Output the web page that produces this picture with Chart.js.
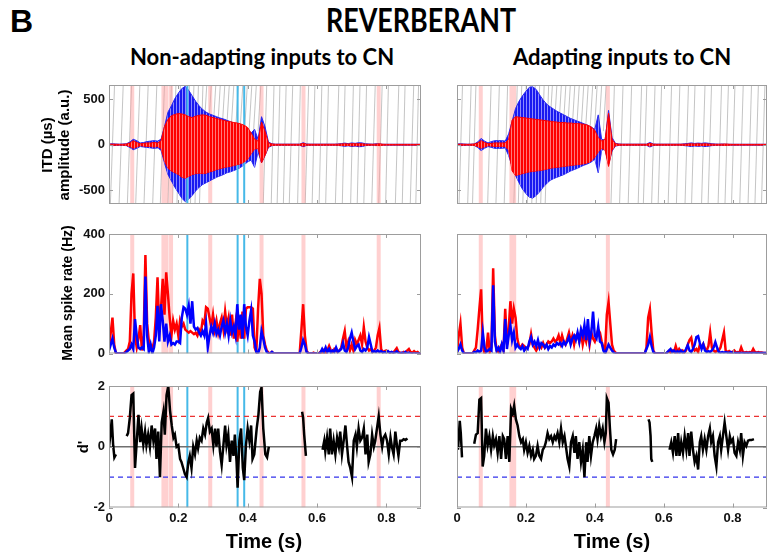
<!DOCTYPE html>
<html><head><meta charset="utf-8">
<script src="https://cdn.jsdelivr.net/npm/chart.js@4.4.1/dist/chart.umd.min.js"></script>
<style>
body{margin:0;width:767px;height:556px;background:#fff;position:relative;overflow:hidden;font-family:Arial,"Liberation Sans",sans-serif}
canvas{position:absolute}
.t{position:absolute;white-space:nowrap;color:#000;font-weight:bold;z-index:5}
.rot{transform:translate(-50%,-50%) rotate(-90deg)}
.ctr{transform:translate(-50%,-50%)}
</style></head><body>
<canvas id="c1"></canvas><canvas id="c2"></canvas><canvas id="c3"></canvas>
<canvas id="c4"></canvas><canvas id="c5"></canvas><canvas id="c6"></canvas>

<div class="t" style="left:10px;top:5px;font:bold 32px 'Liberation Sans',Arial;line-height:32px">B</div>
<div class="t" style="left:421px;top:4px;font:bold 32px Lato;line-height:32px;transform:translateX(-50%) scaleX(0.84)">REVERBERANT</div>
<div class="t" style="left:262px;top:46px;font:bold 22px Lato;line-height:22px;transform:translateX(-50%)">Non-adapting inputs to CN</div>
<div class="t" style="left:622px;top:46px;font:bold 22px Lato;line-height:22px;transform:translateX(-50%)">Adapting inputs to CN</div>
<div class="t rot" style="left:46px;top:145px;font:bold 15px Arial">ITD (µs)</div>
<div class="t rot" style="left:63px;top:145px;font:bold 15px Arial">amplitude (a.u.)</div>
<div class="t rot" style="left:67px;top:293px;font:bold 14px Arial">Mean spike rate (Hz)</div>
<div class="t rot" style="left:82px;top:447px;font:bold 15px Arial">d'</div>
<div class="t ctr" style="left:264px;top:541px;font:bold 20px Arial">Time (s)</div>
<div class="t ctr" style="left:612px;top:541px;font:bold 20px Arial">Time (s)</div>

<script>
// ================= DATA =================
const X_MAX = 0.9;
const xTickVals = [0, 0.2, 0.4, 0.6, 0.8];
const ampTicks = [-500, 0, 500];
const rateTicks = [0, 200, 400];
const dTicks = [-2, 0, 2];
const dCritHigh = 1, dZero = 0, dCritLow = -1;

// marked time instants (s)
const pinkL = [0.067, 0.157, 0.166, 0.179, 0.292, 0.440, 0.561, 0.778];
const cyanL = [0.226, 0.371, 0.390];
const pinkR = [0.069, 0.158, 0.166, 0.438];
const cyanR = [];

// waveform envelopes (a.u.), sampled every 0.01 s from 0 to 0.9
const ENV_DT = 0.01;
const blueUpL = [8,10,8,6,8,10,30,60,45,20, 25,35,40,45,40,60,200,360,430,510, 570,620,645,600,540,480,430,390,360,340, 325,310,295,285,270,255,240,225,210,190, 160,130,170,60,310,200,30,10,6,6, 6,6,6,6,6,6,22,8,6,6, 6,6,6,6,6,6,8,12,18,12, 20,15,22,20,10,8,6,10,8,5, 5,5,5,5,5,5,5,5,5,5,5];
const blueLoL = [-8,-10,-8,-6,-8,-10,-30,-55,-40,-20, -25,-30,-35,-40,-35,-60,-200,-330,-400,-470, -530,-590,-630,-600,-560,-510,-470,-440,-420,-400, -380,-360,-345,-330,-310,-300,-285,-270,-250,-220, -190,-170,-250,-80,-200,-120,-30,-10,-6,-6, -6,-6,-6,-6,-6,-6,-22,-8,-6,-6, -6,-6,-6,-6,-6,-6,-8,-12,-18,-12, -20,-15,-22,-20,-10,-8,-6,-10,-8,-5, -5,-5,-5,-5,-5,-5,-5,-5,-5,-5,-5];
const redUpL = [5,6,5,4,5,8,20,45,25,10, 15,20,20,25,20,40,200,280,320,335, 345,340,330,310,300,315,325,330,325,310, 300,290,280,270,260,255,245,240,230,215, 190,130,60,40,250,150,20,8,5,5, 5,5,5,5,5,5,15,6,5,5, 5,5,5,5,5,5,6,8,10,8, 12,10,12,10,6,5,5,6,10,5, 4,4,4,4,4,4,4,4,4,4,4];
const redLoL = [-5,-6,-5,-4,-5,-8,-20,-40,-25,-10, -15,-20,-20,-25,-20,-40,-180,-260,-290,-310, -330,-360,-370,-350,-330,-320,-315,-320,-315,-300, -290,-275,-265,-255,-245,-240,-230,-220,-210,-190, -160,-100,-50,-40,-200,-120,-20,-8,-5,-5, -5,-5,-5,-5,-5,-5,-15,-6,-5,-5, -5,-5,-5,-5,-5,-5,-6,-8,-10,-8, -12,-10,-12,-10,-6,-5,-5,-6,-10,-5, -4,-4,-4,-4,-4,-4,-4,-4,-4,-4,-4];
const blueUpR = [8,10,8,6,6,8,30,70,40,20, 35,45,45,45,40,120,260,400,480,540, 590,635,640,610,550,495,450,420,395,370, 350,330,310,290,275,260,245,230,215,195, 170,330,60,50,380,80,15,8,6,6, 6,6,6,6,6,6,25,8,6,6, 6,6,6,6,6,6,10,14,20,14, 18,15,20,16,10,8,6,8,6,5, 5,5,5,5,5,5,5,5,5,5,5];
const blueLoR = [-8,-10,-8,-6,-6,-8,-30,-65,-40,-20, -30,-40,-40,-40,-35,-120,-240,-340,-420,-490, -540,-580,-590,-560,-520,-470,-430,-395,-375,-360, -345,-330,-310,-290,-275,-260,-240,-225,-210,-190, -160,-310,-60,-50,-220,-70,-15,-8,-6,-6, -6,-6,-6,-6,-6,-6,-25,-8,-6,-6, -6,-6,-6,-6,-6,-6,-10,-14,-20,-14, -18,-15,-20,-16,-10,-8,-6,-8,-6,-5, -5,-5,-5,-5,-5,-5,-5,-5,-5,-5,-5];
const redUpR = [5,6,5,4,5,8,20,45,25,10, 15,20,20,20,20,60,270,310,305,300, 295,290,285,280,275,270,265,260,255,250, 245,245,240,240,235,235,230,225,215,195, 160,80,40,60,350,60,10,6,5,5, 5,5,5,5,5,5,15,6,5,5, 5,5,5,5,5,5,6,8,10,8, 10,8,10,8,6,5,5,6,8,5, 4,4,4,4,4,4,4,4,4,4,4];
const redLoR = [-5,-6,-5,-4,-5,-8,-20,-40,-25,-10, -15,-20,-20,-20,-20,-60,-290,-340,-330,-320, -310,-300,-295,-290,-285,-280,-270,-260,-255,-250, -245,-240,-235,-230,-225,-220,-215,-210,-200,-180, -140,-80,-40,-60,-240,-60,-10,-6,-5,-5, -5,-5,-5,-5,-5,-5,-15,-6,-5,-5, -5,-5,-5,-5,-5,-5,-6,-8,-10,-8, -10,-8,-10,-8,-6,-5,-5,-6,-8,-5, -4,-4,-4,-4,-4,-4,-4,-4,-4,-4,-4];

// ITD traces (wrapped ramps, full range): time at bottom of axis, time at top of axis
const itdLoL = [0.004,0.029,0.053,0.077,0.101,0.126,0.148,0.170,0.183,0.196,0.209,0.222,0.235,0.248,0.261,0.445,0.468,0.485,0.503,0.520,0.544,0.566,0.586,0.606,0.625,0.653,0.673,0.697,0.716,0.735,0.758,0.778,0.798,0.826,0.846,0.869,0.885];
const itdHiL = [0.016,0.041,0.065,0.089,0.113,0.138,0.160,0.180,0.193,0.206,0.219,0.232,0.245,0.258,0.271,0.455,0.476,0.493,0.511,0.530,0.552,0.576,0.594,0.614,0.633,0.663,0.681,0.705,0.724,0.743,0.768,0.788,0.806,0.836,0.854,0.879,0.893];
const itdLoR = [0.006,0.031,0.045,0.089,0.113,0.137,0.165,0.178,0.191,0.204,0.217,0.230,0.243,0.256,0.447,0.472,0.497,0.526,0.541,0.565,0.584,0.613,0.637,0.662,0.681,0.710,0.729,0.758,0.778,0.797,0.821,0.845,0.865,0.884];
const itdHiR = [0.016,0.041,0.055,0.099,0.123,0.147,0.175,0.188,0.201,0.214,0.227,0.240,0.253,0.266,0.457,0.482,0.507,0.536,0.551,0.575,0.594,0.623,0.647,0.672,0.691,0.720,0.739,0.768,0.788,0.807,0.831,0.855,0.875,0.894];
// ITD traces confined to the upper range (ITD_UP_LO .. top) during the loud part
const ITD_UP_LO = 150;
const itdUpLoL = [0.274,0.287,0.300,0.313,0.326,0.339,0.352,0.365,0.378,0.391,0.404,0.417,0.430];
const itdUpHiL = [0.282,0.295,0.308,0.321,0.334,0.347,0.360,0.373,0.386,0.399,0.412,0.425,0.438];
const itdUpLoR = [0.269,0.282,0.295,0.308,0.321,0.334,0.347,0.360,0.373,0.386,0.399,0.412,0.425];
const itdUpHiR = [0.277,0.290,0.303,0.316,0.329,0.342,0.355,0.368,0.381,0.394,0.407,0.420,0.433];

// mean spike rate (Hz), sampled every 0.005 s from 0 to 0.9
const RATE_DT = 0.005;
const redRateL = [20,70,120,30,0,0,0,0,0,3, 10,15,40,200,268,60,20,50,95,10, 60,330,100,40,30,15,40,120,255,80, 150,250,130,272,200,120,60,110,80,100, 60,110,90,100,80,75,70,75,70,65, 70,60,80,70,110,100,155,150,120,90, 130,80,110,70,100,120,80,140,90,120, 60,130,50,100,40,110,50,140,50,150, 155,155,155,150,20,5,150,250,200,60, 30,10,3,0,5,0,0,0,0,0, 0,0,0,0,0,0,0,0,0,0, 0,80,165,60,10,0,0,0,3,0, 0,0,5,0,10,0,10,25,10,5, 15,10,5,10,20,50,75,20,40,10, 30,10,45,30,45,60,30,88,40,20, 10,15,5,10,20,60,85,15,5,8, 10,5,3,5,3,10,18,5,3,0, 5,3,10,15,5,3,8,3,5,0, 0];
const blueRateL = [10,30,50,20,3,0,0,0,0,0, 5,10,15,30,15,115,60,20,15,20, 15,258,60,5,30,0,20,60,160,40, 165,110,40,100,40,60,30,35,30,40, 40,35,120,155,150,130,160,100,175,90, 80,85,70,60,75,60,100,20,60,90, 70,100,65,80,60,90,110,70,100,60, 110,70,90,60,165,80,130,50,165,90, 60,110,145,60,40,5,0,20,75,50, 20,5,0,0,5,0,0,0,0,0, 0,0,0,0,0,0,0,0,0,0, 0,20,45,30,5,0,0,0,0,0, 0,0,3,15,5,20,5,15,3,10, 5,20,5,10,15,35,10,5,20,50, 70,40,15,25,30,10,5,15,10,20, 55,30,5,8,5,10,5,8,3,5, 3,8,2,5,2,3,8,2,0,3, 0,5,0,3,0,0,0,0,0,0, 0];
const redRateR = [5,60,100,20,0,0,0,0,0,0, 10,20,80,150,215,30,0,10,70,5, 20,285,60,10,5,20,30,10,150,30, 80,175,100,150,120,50,25,20,30,25, 15,20,30,65,30,20,10,20,30,20, 35,20,30,40,35,40,50,40,45,60, 35,60,40,30,50,70,40,60,30,60, 65,40,70,30,60,40,75,30,70,50, 40,60,80,70,40,20,10,130,172,100, 30,10,3,0,0,0,0,0,0,0, 0,0,0,0,0,0,0,0,0,0, 20,120,148,70,10,0,0,0,0,0, 0,0,3,8,3,10,5,25,5,15, 5,10,3,10,30,45,53,20,10,15, 5,30,20,32,15,10,25,70,20,10, 5,10,10,20,45,70,10,5,8,3, 5,10,3,5,3,20,5,3,5,3, 5,3,15,5,3,5,3,3,2,2, 2];
const blueRateR = [5,15,30,10,0,0,0,0,0,0, 5,3,10,5,10,70,20,5,10,15, 10,228,40,10,20,5,30,10,115,15, 60,95,45,70,20,30,20,15,25,10, 20,15,40,55,30,40,25,45,20,35, 30,20,30,15,25,20,30,25,35,30, 35,25,40,30,40,55,30,50,60,45, 70,40,80,60,95,45,115,40,70,140, 60,50,90,40,35,10,0,15,30,20, 10,3,0,0,0,0,0,0,0,0, 0,0,0,0,0,0,0,0,0,0, 15,30,55,25,5,0,0,0,0,0, 0,0,3,10,15,5,10,3,8,3, 10,3,5,15,28,10,5,15,30,55, 58,35,15,30,10,5,8,5,10,20, 38,20,5,3,5,3,5,3,2,5, 2,2,2,2,2,2,2,2,2,2, 2,2,2,2,2,2,2,2,2,2, 2];

// d' (null = not defined)
const dTimeL = [0.000,0.004,0.008,0.012,0.0155,0.020,0.030, 0.051,0.055,0.060,0.065,0.070,0.075,0.080,0.085,0.090,0.094,0.099,0.104,0.108,0.113,0.118,0.123,0.128,0.133,0.137,0.142,0.147,0.152,0.157,0.161,0.166,0.171,0.176,0.181,0.186,0.190,0.195,0.200,0.205,0.209,0.214,0.219,0.224,0.229,0.233,0.238,0.243,0.248,0.253,0.257,0.262,0.267,0.272,0.277,0.282,0.286,0.291,0.296,0.301,0.306,0.310,0.315,0.320,0.325,0.330,0.335,0.339,0.344,0.349,0.354,0.359,0.363,0.368,0.371,0.376,0.381,0.386,0.390,0.395,0.400,0.405,0.410,0.414,0.419,0.426,0.431,0.436,0.440,0.445,0.451,0.456,0.461,0.500, 0.557,0.560,0.563,0.568,0.590, 0.616,0.621,0.624,0.629,0.634,0.638,0.643,0.648,0.653,0.658,0.663,0.667,0.672,0.677,0.682,0.687,0.691,0.696,0.701,0.706,0.711,0.715,0.720,0.725,0.730,0.735,0.740,0.745,0.749,0.754,0.759,0.764,0.768,0.773,0.778,0.783,0.788,0.792,0.797,0.802,0.807,0.812,0.816,0.821,0.826,0.831,0.835,0.840,0.845,0.850,0.855,0.861];
const dValL = [0,0.4,0.9,0.05,-0.35,-0.25,null, 0.35,0.45,0.95,1.7,1.75,-0.7,0.17,1.05,0.15,0.6,0.07,0.5,0.05,0.4,0,0.7,0.2,0.6,-0.4,0.5,-1.0,0.8,1.15,0.4,1.7,2.0,1.2,0.7,0.3,0.4,0,0.05,-0.4,-0.5,-0.7,-0.9,-1.0,-0.5,-0.3,-0.7,0,-0.25,0.2,-0.05,0.3,0.2,0.6,0.4,0.8,0.95,0.5,0.6,0.05,0.6,0,0.6,-0.15,-0.6,0.05,0.7,0.05,0.4,-0.5,0.2,-0.3,0.4,-0.5,-1.35,0.2,0.6,-0.7,-1.1,0.05,0.6,0.2,0.7,-0.4,-0.25,0.6,1.05,1.8,1.95,0.6,-0.25,-0.35,0,null, 1.15,0.95,0.4,-0.3,null, -0.1,0.2,-0.15,0.3,-0.25,0.6,-0.25,0.2,-0.25,0.3,0,0.5,-0.25,0.2,0.7,0,-0.5,-0.7,-1.0,0.2,0.4,0,0.6,0.2,0.3,0.6,-0.25,0.4,-0.5,-0.25,0.4,0,0.2,0.6,1.0,0.4,0,0.3,0.4,0.2,-0.25,0.3,0,-0.25,0.5,0,-0.3,0.2,0.2,0.25,0.22,0.27];
const dTimeR = [0.003,0.008,0.011,0.0145,0.030, 0.050,0.055,0.060,0.065,0.070,0.0745,0.079,0.084,0.089,0.094,0.099,0.104,0.108,0.113,0.118,0.123,0.128,0.133,0.137,0.142,0.147,0.152,0.157,0.162,0.166,0.171,0.176,0.181,0.186,0.191,0.195,0.200,0.205,0.210,0.215,0.220,0.224,0.229,0.234,0.239,0.244,0.249,0.254,0.258,0.263,0.268,0.273,0.278,0.283,0.287,0.292,0.297,0.302,0.307,0.312,0.316,0.321,0.326,0.331,0.336,0.341,0.345,0.350,0.355,0.360,0.365,0.370,0.375,0.379,0.384,0.389,0.394,0.399,0.404,0.408,0.413,0.418,0.423,0.428,0.432,0.435,0.440,0.444,0.448,0.453,0.458,0.462,0.500, 0.556,0.559,0.562,0.564,0.567,0.590, 0.617,0.622,0.627,0.632,0.637,0.642,0.646,0.651,0.656,0.661,0.666,0.671,0.675,0.680,0.685,0.690,0.695,0.700,0.705,0.709,0.714,0.719,0.724,0.729,0.734,0.738,0.743,0.748,0.753,0.758,0.763,0.767,0.772,0.777,0.782,0.787,0.792,0.796,0.801,0.806,0.811,0.816,0.821,0.825,0.830,0.835,0.840,0.845,0.850,0.855,0.862];
const dValR = [-0.1,0.85,0.45,-0.35,null, 0.1,0.4,0.45,1.55,1.6,-0.65,-0.3,0.6,0.05,0.35,-0.1,0.35,0.05,0.25,-0.2,0.35,-0.4,0.35,0.25,-0.4,0.35,-0.5,1.25,1.1,1.35,0.9,0.7,0.35,0.15,0.25,-0.1,0.15,-0.2,0.03,-0.3,-0.1,-0.4,-0.3,0.03,-0.3,-0.4,-0.1,0,0.15,0.45,0.25,0.35,0.15,0.35,0.25,0.45,0.15,0.6,0.15,0.35,0.03,-0.4,-0.65,0.15,0.35,-0.2,0.35,-0.4,0.15,-0.5,-0.1,-1.0,0.15,-0.5,0.35,-0.3,0.15,0.35,0.6,0.25,0.7,0.35,0.6,0.15,0.45,1.6,1.45,0.6,-0.1,-0.25,-0.1,0.25,null, 0.9,0.8,0.35,-0.4,-0.5,null, -0.1,0.15,-0.2,0.35,-0.3,0.45,-0.3,0.15,-0.2,0.35,-0.1,0.45,-0.3,0.5,-0.1,-0.5,-0.3,-0.75,0.15,0.35,-0.1,0.25,-0.1,0.35,0.6,0.15,0.35,-0.3,-0.65,0.15,0.35,-0.1,0.35,0.8,0.35,-0.1,0.35,0.15,0.25,-0.2,-0.3,0.15,-0.1,0.45,-0.3,0.15,0.03,0.2,0.22,0.22,0.25];

// ================= HELPERS =================
const AMP_MIN = -655, AMP_MAX = 660, RATE_MIN = 0, RATE_MAX = 400, D_MIN = -2, D_MAX = 2;
const RED = 'rgb(255,0,0)', BLUE = 'rgb(0,0,255)', PINK = 'rgba(255,150,150,0.45)', CYAN = 'rgb(70,185,232)';
function grid(n, dt){ const a=[]; for(let i=0;i<n;i++) a.push(Math.round(i*dt*1000)/1000); return a; }
function xy(ts, vs){ return ts.map((t,i)=>({x:t, y:vs[i]})); }
function vlines(ts, y0, y1){ const o=[]; ts.forEach(t=>{o.push({x:t,y:y0},{x:t,y:y1},{x:t,y:null});}); return o; }
function ramps(lo, hi, y0, y1){ const o=[]; lo.forEach((t,i)=>{o.push({x:t,y:y0},{x:hi[i],y:y1},{x:hi[i],y:null});}); return o; }
function hline(v){ return [{x:0,y:v},{x:X_MAX,y:v}]; }
function stripes(c1, c2){ const p=document.createElement('canvas'); p.width=3; p.height=4; const g=p.getContext('2d'); g.fillStyle=c1; g.fillRect(0,0,3,4); g.fillStyle=c2; g.fillRect(2,0,1,4); return g.createPattern(p,'repeat'); }
const envT = grid(blueUpL.length, ENV_DT);
const rateT = grid(redRateL.length, RATE_DT);
const blueFill = stripes('rgb(25,25,240)','rgb(140,140,255)');
const redFill = stripes('rgb(255,0,0)','rgb(255,120,120)');

const framePlugin = {id:'frame', afterDraw(chart, args, opts){
  const {ctx, chartArea:a, scales} = chart;
  ctx.save(); ctx.strokeStyle='#9d9d9d'; ctx.lineWidth=1;
  ctx.strokeRect(a.left+0.5, a.top+0.5, a.right-a.left-1, a.bottom-a.top-1);
  const L=4; ctx.beginPath();
  opts.xt.forEach(v=>{const x=Math.round(scales.x.getPixelForValue(v))+0.5; ctx.moveTo(x,a.bottom); ctx.lineTo(x,a.bottom-L); ctx.moveTo(x,a.top); ctx.lineTo(x,a.top+L);});
  opts.yt.forEach(v=>{const y=Math.round(scales.y.getPixelForValue(v))+0.5; ctx.moveTo(a.left,y); ctx.lineTo(a.left+L,y); ctx.moveTo(a.right,y); ctx.lineTo(a.right-L,y);});
  ctx.stroke(); ctx.restore();
}};

const TICK_FONT = {family:'Arial, "Liberation Sans", sans-serif', size:13, weight:'bold'};

function panel(id, g, cfg){
  const cv = document.getElementById(id);
  cv.width = g.cw; cv.height = g.ch; cv.style.left = g.cl+'px'; cv.style.top = g.ct+'px';
  const xH = cfg.xLabels ? 26 : 0;
  return new Chart(cv, {
    type:'line',
    data:{datasets:cfg.datasets},
    options:{
      responsive:false, animation:false, events:[],
      layout:{padding:{left:0, top:g.pt-g.ct, right:(g.cl+g.cw)-g.pr, bottom:(g.ct+g.ch)-g.pb-xH}},
      plugins:{legend:{display:false}, tooltip:{enabled:false}, frame:{xt:xTickVals, yt:cfg.yTicks}},
      elements:{point:{radius:0}, line:{tension:0}},
      scales:{
        x:{type:'linear', min:0, max:X_MAX, grid:{display:false, drawTicks:false}, border:{display:false},
           ticks:{display:cfg.xLabels, padding:3, font:TICK_FONT, color:'#111', maxRotation:0, autoSkip:false, callback:v=>String(v)},
           afterBuildTicks:s=>{s.ticks = xTickVals.map(v=>({value:v}));},
           afterFit:s=>{s.height = xH; s.paddingLeft = 0; s.paddingRight = 0;}},
        y:{type:'linear', min:cfg.yMin, max:cfg.yMax, grid:{display:false, drawTicks:false}, border:{display:false},
           ticks:{display:cfg.yLabels, padding:4, font:TICK_FONT, color:'#111', autoSkip:false, callback:v=>String(v)},
           afterBuildTicks:s=>{s.ticks = cfg.yTicks.map(v=>({value:v}));},
           afterFit:s=>{s.width = g.pl-g.cl; s.paddingTop = 0; s.paddingBottom = 0;}}
      }
    },
    plugins:[framePlugin]
  });
}

const GRAY = 'rgba(130,130,130,0.6)';
function ampSets(bu, bl, ru, rl, pinks, cyans, lo, hi, ulo, uhi){
  return [
    {data:xy(envT, ru), borderColor:RED, borderWidth:1, backgroundColor:redFill, fill:'+1'},
    {data:xy(envT, rl), borderColor:RED, borderWidth:1, fill:false},
    {data:vlines(cyans, AMP_MIN, AMP_MAX), borderColor:CYAN, borderWidth:2, fill:false},
    {data:xy(envT, bu), borderColor:'rgb(40,40,240)', borderWidth:1, backgroundColor:blueFill, fill:'+1'},
    {data:xy(envT, bl), borderColor:'rgb(40,40,240)', borderWidth:1, fill:false},
    {data:vlines(pinks, AMP_MIN, AMP_MAX), borderColor:PINK, borderWidth:4, fill:false},
    {data:ramps(lo, hi, AMP_MIN, AMP_MAX), borderColor:GRAY, borderWidth:0.8, fill:false},
    {data:ramps(ulo, uhi, ITD_UP_LO, AMP_MAX), borderColor:GRAY, borderWidth:0.8, fill:false}
  ];
}
function rateSets(red, blue, pinks, cyans){
  return [
    {data:xy(rateT, blue), borderColor:BLUE, borderWidth:2.5, fill:false},
    {data:xy(rateT, red), borderColor:RED, borderWidth:2.5, fill:false},
    {data:vlines(cyans, RATE_MIN, RATE_MAX), borderColor:CYAN, borderWidth:2, fill:false},
    {data:vlines(pinks, RATE_MIN, RATE_MAX), borderColor:PINK, borderWidth:4, fill:false}
  ];
}
function dSets(ts, vs, pinks, cyans){
  return [
    {data:xy(ts, vs), borderColor:'#000', borderWidth:2.5, fill:false},
    {data:hline(dZero), borderColor:'#6f6f6f', borderWidth:1.3, fill:false},
    {data:hline(dCritHigh), borderColor:'rgb(235,50,50)', borderWidth:1.3, borderDash:[5,4], fill:false},
    {data:hline(dCritLow), borderColor:'rgb(50,50,235)', borderWidth:1.3, borderDash:[5,4], fill:false},
    {data:vlines(cyans, D_MIN, D_MAX), borderColor:CYAN, borderWidth:2, fill:false},
    {data:vlines(pinks, D_MIN, D_MAX), borderColor:PINK, borderWidth:4, fill:false}
  ];
}

const colL = {cl:0, cw:430, pl:109, pr:421};
const colR = {cl:440, cw:327, pl:457, pr:767};
const rowT = {ct:74, ch:142, pt:85, pb:204};
const rowM = {ct:222, ch:142, pt:234, pb:353.5};
const rowB = {ct:374, ch:166, pt:386, pb:507.5};

panel('c1', {...colL, ...rowT}, {yMin:AMP_MIN, yMax:AMP_MAX, yTicks:ampTicks, yLabels:true, xLabels:false,
  datasets:ampSets(blueUpL, blueLoL, redUpL, redLoL, pinkL, cyanL, itdLoL, itdHiL, itdUpLoL, itdUpHiL)});
panel('c2', {...colL, ...rowM}, {yMin:RATE_MIN, yMax:RATE_MAX, yTicks:rateTicks, yLabels:true, xLabels:false,
  datasets:rateSets(redRateL, blueRateL, pinkL, cyanL)});
panel('c3', {...colL, ...rowB}, {yMin:D_MIN, yMax:D_MAX, yTicks:dTicks, yLabels:true, xLabels:true,
  datasets:dSets(dTimeL, dValL, pinkL, cyanL)});
panel('c4', {...colR, ...rowT}, {yMin:AMP_MIN, yMax:AMP_MAX, yTicks:ampTicks, yLabels:false, xLabels:false,
  datasets:ampSets(blueUpR, blueLoR, redUpR, redLoR, pinkR, cyanR, itdLoR, itdHiR, itdUpLoR, itdUpHiR)});
panel('c5', {...colR, ...rowM}, {yMin:RATE_MIN, yMax:RATE_MAX, yTicks:rateTicks, yLabels:false, xLabels:false,
  datasets:rateSets(redRateR, blueRateR, pinkR, cyanR)});
panel('c6', {...colR, ...rowB}, {yMin:D_MIN, yMax:D_MAX, yTicks:dTicks, yLabels:false, xLabels:true,
  datasets:dSets(dTimeR, dValR, pinkR, cyanR)});
</script>
</body></html>
